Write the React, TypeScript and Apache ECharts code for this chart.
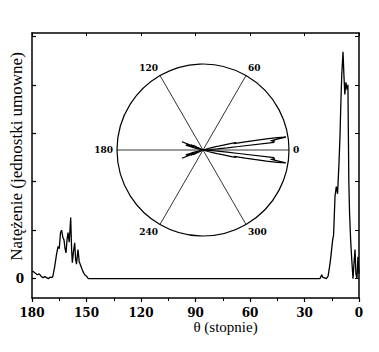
import React, { useEffect, useRef } from "react";
import * as echarts from "echarts";

const thetaDeg: number[] = [
  180, 179.5, 178.5, 177, 176, 175, 174, 173, 172, 171, 170, 169, 168.5, 167.5, 166.5, 165.7, 165,
  164.3, 163.7, 163, 162.4, 161.8, 161.3, 160.7, 160.2, 159.5, 158.7, 158.2, 157.8, 157.2, 156.5,
  156, 155.5, 154.7, 154, 153, 152, 151, 150, 149, 120, 90, 60, 30, 22, 21.5, 20.5, 20, 18, 17, 16,
  15.5, 14.5, 14, 13.2, 12.5, 11.8, 11, 10.5, 10, 9.5, 8.8, 8.3, 7.8, 7.2, 6.6, 6.1, 5.6, 5.2, 4.6,
  4, 3.3, 2.8, 2.2, 1.7, 1.1, 0.6, 0,
];
const intensity: number[] = [
  0.15, 0.15, 0.12, 0.08, 0.1, 0.05, 0.02, 0.04, 0.02, 0.0, 0.03, 0.02, 0.05, 0.25, 0.5, 0.66, 0.62,
  0.95, 1.0, 0.85, 0.8, 0.62, 0.53, 0.8, 0.95, 0.75, 1.26, 0.6, 0.33, 0.55, 0.74,
  0.4, 0.3, 0.6, 0.35, 0.25, 0.15, 0.08, 0.05, 0.0, 0.0, 0.0, 0.0, 0.0, 0.0, 0.0, 0.08, 0.03, 0.0, 0.05, 0.3,
  0.45, 0.8, 0.9, 1.7, 1.9, 1.75, 2.4, 2.9, 3.6, 4.2, 4.68, 4.2, 3.8, 4.05, 3.9, 4.0, 2.0, 1.36, 0.8,
  0.4, 0.0, 0.3, 0.6, 0.1, 0.0, 0.45, 0.1,
];
const xTicks: number[] = [0, 30, 60, 90, 120, 150, 180];
const yTicks: number[] = [0, 1, 2, 3, 4, 5];
const yLabels: number[] = [0];
const polarLabels: number[] = [0, 60, 120, 180, 240, 300];

const serif = "'Liberation Serif', serif";
const boldFont = "'DejaVu Serif', serif";

export default function App() {
  const ref = useRef<HTMLDivElement>(null);
  useEffect(() => {
    if (!ref.current) return;
    const chart = echarts.init(ref.current, null, { renderer: "svg" });
    const cart = thetaDeg.map((t, i) => [t, intensity[i]]);
    const polarUpper = thetaDeg.map((t, i) => [intensity[i], t]).reverse();
    const polarLower = thetaDeg.map((t, i) => [intensity[i], 360 - t]);
    const polarData = polarUpper.concat(polarLower);
    const axisLineStyle = { color: "#000", width: 1.5 };
    chart.setOption({
      animation: false,
      backgroundColor: "#fff",
      grid: { left: 32, right: 20, top: 33, bottom: 54, containLabel: false, outerBoundsMode: "none" },
      polar: { center: [203, 150], radius: 86 },
      xAxis: [
        {
          type: "value",
          position: "bottom",
          inverse: true,
          min: xTicks[0],
          max: xTicks[xTicks.length - 1],
          interval: 30,
          name: "θ (stopnie)",
          nameLocation: "middle",
          nameGap: 29,
          nameMoveOverlap: false,
          nameTextStyle: {
            color: "#000",
            fontFamily: serif,
            fontSize: 15,
            verticalAlign: "middle",
            padding: [0, 0, 0, 60],
          },
          axisLine: { show: true, onZero: false, lineStyle: axisLineStyle },
          axisTick: { show: true, inside: false, length: 4, lineStyle: { color: "#000", width: 1.2 } },
          minorTick: { show: true, splitNumber: 2, length: 3, lineStyle: { color: "#000" } },
          splitLine: { show: false },
          axisLabel: {
            color: "#000",
            fontFamily: boldFont,
            fontWeight: "bold",
            fontSize: 12,
            margin: 9,
          },
        },
        {
          type: "value",
          position: "top",
          inverse: true,
          min: 0,
          max: 180,
          interval: 30,
          axisLine: { show: true, onZero: false, lineStyle: axisLineStyle },
          axisTick: { show: true, inside: true, length: 3, lineStyle: { color: "#000" } },
          splitLine: { show: false },
          axisLabel: { show: false },
        },
      ],
      yAxis: [
        {
          type: "value",
          position: "left",
          min: -0.4,
          max: 5.07,
          name: "Natężenie (jednostki umowne)",
          nameLocation: "middle",
          nameRotate: 90,
          nameGap: 16,
          nameMoveOverlap: false,
          nameTextStyle: {
            color: "#000",
            fontFamily: serif,
            fontSize: 17,
            verticalAlign: "middle",
            padding: [0, 0, 0, 18],
          },
          axisLine: { show: true, onZero: false, lineStyle: axisLineStyle },
          axisTick: { show: true, inside: true, length: 4, customValues: yTicks, lineStyle: { color: "#000", width: 1.2 } },
          splitLine: { show: false },
          axisLabel: {
            customValues: yLabels,
            color: "#000",
            fontFamily: boldFont,
            fontWeight: "bold",
            fontSize: 12,
            margin: 8,
          },
        },
        {
          type: "value",
          position: "right",
          min: -0.4,
          max: 5.07,
          axisLine: { show: true, onZero: false, lineStyle: axisLineStyle },
          axisTick: { show: true, inside: true, length: 4, customValues: yTicks, lineStyle: { color: "#000" } },
          splitLine: { show: false },
          axisLabel: { show: false },
        },
      ],
      angleAxis: {
        type: "value",
        min: 0,
        max: 360,
        interval: 60,
        startAngle: 0,
        clockwise: false,
        axisLine: { show: true, lineStyle: { color: "#000", width: 1.2 } },
        axisTick: { show: false },
        splitLine: { show: true, lineStyle: { color: "#000", width: 0.8 } },
        axisLabel: {
          color: "#000",
          fontFamily: boldFont,
          fontWeight: "bold",
          fontSize: 9,
          margin: 4,
          customValues: polarLabels,
        },
      },
      radiusAxis: {
        type: "value",
        min: 0,
        max: 4.8,
        axisLine: { show: false },
        axisTick: { show: false },
        axisLabel: { show: false },
        splitLine: { show: false },
      },
      series: [
        {
          type: "line",
          xAxisIndex: 0,
          yAxisIndex: 0,
          data: cart,
          symbol: "none",
          lineStyle: { color: "#000", width: 1.3 },
          silent: true,
        },
        {
          type: "line",
          coordinateSystem: "polar",
          data: polarData,
          symbol: "none",
          lineStyle: { color: "#000", width: 1.2 },
          silent: true,
        },
      ],
    });
    return () => chart.dispose();
  }, []);
  return (
    <div
      ref={ref}
      style={{ position: "absolute", left: 0, top: 0, width: 379, height: 352, background: "#fff" }}
    />
  );
}
